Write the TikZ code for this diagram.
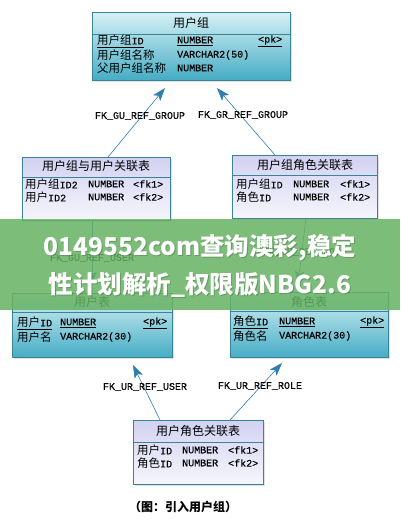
\documentclass[tikz,border=0pt]{standalone}
\usepackage{fontspec}
\setmainfont{Liberation Mono}[FakeBold=0.4]
\newfontfamily\cjk{Noto Sans CJK SC}
\usetikzlibrary{arrows.meta,shadows,calc}
\definecolor{cyT}{HTML}{D6F1F5}
\definecolor{cyB}{HTML}{45ACC5}
\definecolor{lvT}{HTML}{D2D2F2}
\definecolor{lvB}{HTML}{F6F6FD}
\definecolor{bordc}{HTML}{3B8496}
\definecolor{arrowc}{HTML}{2E7FB0}
\definecolor{wmgreen}{HTML}{67B263}
\newcommand\zh[1]{{\cjk\fontsize{11.5}{12}\selectfont #1}}
\begin{document}
\begin{tikzpicture}[x=1pt,y=-1pt,
  tbl/.style={draw=bordc, line width=0.8pt, anchor=north west, inner sep=0pt,
    drop shadow={shadow xshift=1.5pt, shadow yshift=-1.5pt, opacity=0.2, fill=black!60}},
  cyantbl/.style={tbl, top color=cyT, bottom color=cyB},
  lavtbl/.style={tbl, top color=lvT, bottom color=lvB},
  hline/.style={draw=bordc, line width=0.8pt},
  hdr/.style={font=\cjk\fontsize{12}{12}\selectfont, inner sep=0pt},
  cell/.style={anchor=west, inner sep=0pt, font=\fontsize{10}{12}\selectfont},
  fk/.style={draw=arrowc, line width=0.6pt, -{Stealth[length=13pt,width=9pt,inset=3pt,fill=arrowc]}},
  fklbl/.style={font=\fontsize{10}{12}\selectfont, inner sep=0pt},
  wm/.style={text=white, font=\cjk\bfseries\fontsize{24.5}{25}\selectfont, inner sep=0pt},
  wmsh/.style={text=black, opacity=0.18, font=\cjk\bfseries\fontsize{24.5}{25}\selectfont, inner sep=0pt},
  captext/.style={font=\cjk\bfseries\fontsize{12}{13}\selectfont, inner sep=0pt}
]
\useasboundingbox (0,0) rectangle (400,530);
\fill[white] (0,0) rectangle (400,530);

% ---- tables ----
\node[cyantbl, minimum width=198, minimum height=68] (g) at (92,12) {};
\draw[hline] ($(g.north west)+(0,22)$) -- ($(g.north east)+(0,22)$);
\node[hdr] (gh) at (191,23) {用户组};
\node[cell] (g11) at (97,41) {\underline{\zh{用户组}ID}};
\node[cell] (g12) at (177,41) {\underline{NUMBER}};
\node[cell] (g13) at (258,41) {\underline{<pk>}};
\node[cell] (g21) at (97,55) {\zh{用户组名称}};
\node[cell] (g22) at (177,55) {VARCHAR2(50)};
\node[cell] (g31) at (97,68) {\zh{父用户组名称}};
\node[cell] (g32) at (177,68) {NUMBER};

\node[lavtbl, minimum width=148, minimum height=63] (gu) at (22,157) {};
\draw[hline] ($(gu.north west)+(0,20)$) -- ($(gu.north east)+(0,20)$);
\node[hdr] (guh) at (96,166) {用户组与用户关联表};
\node[cell] (gu11) at (25,184) {\zh{用户组}ID2};
\node[cell] (gu12) at (88,184) {NUMBER};
\node[cell] (gu13) at (133,184) {<fk1>};
\node[cell] (gu21) at (25,197) {\zh{用户}ID2};
\node[cell] (gu22) at (88,197) {NUMBER};
\node[cell] (gu23) at (133,197) {<fk2>};

\node[lavtbl, minimum width=145, minimum height=63] (gr) at (232,155) {};
\draw[hline] ($(gr.north west)+(0,20)$) -- ($(gr.north east)+(0,20)$);
\node[hdr] (grh) at (305,165) {用户组角色关联表};
\node[cell] (gr11) at (236,184) {\zh{用户组}ID};
\node[cell] (gr12) at (293,184) {NUMBER};
\node[cell] (gr13) at (340,184) {<fk1>};
\node[cell] (gr21) at (236,197) {\zh{角色}ID};
\node[cell] (gr22) at (293,197) {NUMBER};
\node[cell] (gr23) at (340,197) {<fk2>};

\node[cyantbl, minimum width=160, minimum height=64] (u) at (12,293) {};
\draw[hline] ($(u.north west)+(0,19)$) -- ($(u.north east)+(0,19)$);
\node[hdr] (uh) at (92,302) {用户表};
\node[cell] (u11) at (17,323) {\underline{\zh{用户}ID}};
\node[cell] (u12) at (60,323) {\underline{NUMBER}};
\node[cell] (u13) at (143,323) {\underline{<pk>}};
\node[cell] (u21) at (17,337) {\zh{用户名}};
\node[cell] (u22) at (60,337) {VARCHAR2(30)};

\node[cyantbl, minimum width=158, minimum height=65] (r) at (230,292) {};
\draw[hline] ($(r.north west)+(0,19)$) -- ($(r.north east)+(0,19)$);
\node[hdr] (rh) at (309,302) {角色表};
\node[cell] (r11) at (233,322) {\underline{\zh{角色}ID}};
\node[cell] (r12) at (279,322) {\underline{NUMBER}};
\node[cell] (r13) at (360,322) {\underline{<pk>}};
\node[cell] (r21) at (233,336) {\zh{角色名}};
\node[cell] (r22) at (279,336) {VARCHAR2(30)};

\node[lavtbl, minimum width=130, minimum height=64] (ur) at (133,420) {};
\draw[hline] ($(ur.north west)+(0,22)$) -- ($(ur.north east)+(0,22)$);
\node[hdr] (urh) at (198,431) {用户角色关联表};
\node[cell] (ur11) at (137,450) {\zh{用户}ID};
\node[cell] (ur12) at (182,450) {NUMBER};
\node[cell] (ur13) at (228,450) {<fk1>};
\node[cell] (ur21) at (137,463) {\zh{角色}ID};
\node[cell] (ur22) at (182,463) {NUMBER};
\node[cell] (ur23) at (228,463) {<fk2>};

% ---- connector end points ----
\coordinate (gu-s) at (108,157);
\coordinate (g-t1) at (165,88);
\coordinate (gr-s) at (275,155);
\coordinate (g-t2) at (217,88);
\coordinate (gu-s2) at (92,220);
\coordinate (u-t) at (92,285);
\coordinate (gr-s2) at (306,218);
\coordinate (r-t) at (298,284);
\coordinate (ur-s1) at (160,420);
\coordinate (u-t2) at (133,365);
\coordinate (ur-s2) at (230,420);
\coordinate (r-t2) at (282,363);

\draw[fk] (gu-s) -- (g-t1);
\draw[fk] (gr-s) -- (g-t2);
\draw[fk] (gu-s2) -- (u-t);
\draw[fk] (gr-s2) -- (r-t);
\draw[fk] (ur-s1) -- (u-t2);
\draw[fk] (ur-s2) -- (r-t2);

\node[fklbl] (l1) at (140,116) {FK\_GU\_REF\_GROUP};
\node[fklbl] (l2) at (243,115) {FK\_GR\_REF\_GROUP};
\node[fklbl] (l3) at (92,258) {FK\_GU\_REF\_USER};
\node[fklbl] (l4) at (305,252) {FK\_GR\_REF\_ROLE};
\node[fklbl] (l5) at (145,387) {FK\_UR\_REF\_USER};
\node[fklbl] (l6) at (260,386) {FK\_UR\_REF\_ROLE};

\node[captext] (caption) at (183,507) {（图：引入用户组）};

% ---- watermark band ----
\fill[wmgreen, opacity=0.85] (0,219) rectangle (400,310);
\node[wmsh] (w1s) at (201,249) {0149552com查询澳彩,稳定};
\node[wmsh] (w2s) at (201,286) {性计划解析\_权限版NBG2.6};
\node[wm] (w1) at (200,248) {0149552com查询澳彩,稳定};
\node[wm] (w2) at (200,285) {性计划解析\_权限版NBG2.6};
\end{tikzpicture}
\end{document}
